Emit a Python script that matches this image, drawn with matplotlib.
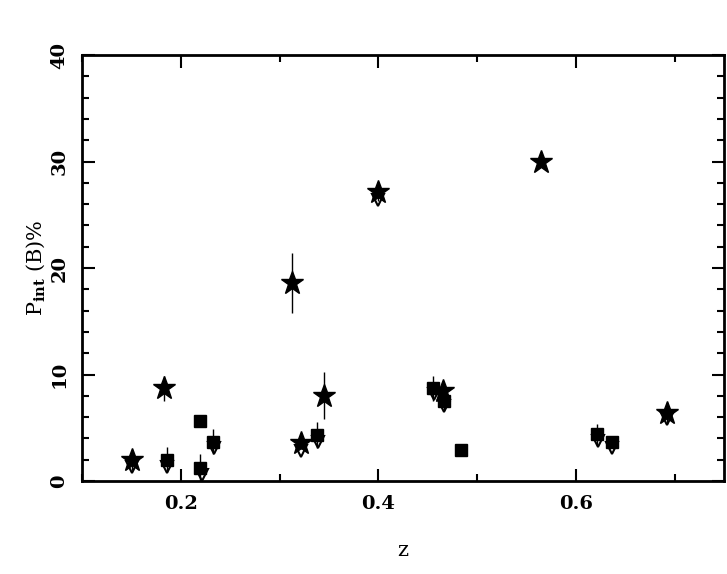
import matplotlib
matplotlib.use("Agg")
import matplotlib.pyplot as plt
from matplotlib.ticker import MultipleLocator

# stars: integrated polarization with errors
star_z = [0.150, 0.183, 0.312, 0.322, 0.345, 0.400, 0.465, 0.565, 0.692]
star_p = [2.0, 8.7, 18.6, 3.6, 8.0, 27.1, 8.5, 30.0, 6.4]
star_err = [1.0, 1.2, 2.8, 0.6, 2.2, 0.8, 0.8, 0.4, 1.0]

# filled squares
sq_z = [0.186, 0.219, 0.219, 0.232, 0.338, 0.455, 0.466, 0.484, 0.621, 0.636]
sq_p = [2.0, 5.6, 1.2, 3.7, 4.3, 8.7, 7.5, 2.9, 4.4, 3.7]
sq_err = [1.2, 0.0, 1.3, 1.2, 1.2, 1.2, 0.8, 0.0, 1.0, 0.5]

# open down triangles
tri_z = [0.150, 0.186, 0.221, 0.233, 0.322, 0.339, 0.400, 0.456, 0.466, 0.622, 0.637, 0.692]
tri_p = [1.3, 1.3, 0.6, 3.1, 2.8, 3.7, 26.4, 8.2, 7.0, 3.8, 3.1, 5.8]

plt.rcParams['font.family'] = ['DejaVu Serif']
plt.rcParams['font.weight'] = 'bold'
plt.rcParams['mathtext.fontset'] = 'dejavuserif'

fig = plt.figure(figsize=(7.27, 5.74), dpi=100)
ax = fig.add_axes([0.113, 0.162, 0.883, 0.742])

ax.plot(tri_z, tri_p, linestyle='none', marker='v', markersize=8,
        markerfacecolor='white', markeredgecolor='black', markeredgewidth=1.5, zorder=2)
ax.errorbar(sq_z, sq_p, yerr=sq_err, fmt='s', color='black', markersize=9,
            elinewidth=1, capsize=0, zorder=3)
ax.errorbar(star_z, star_p, yerr=star_err, fmt='*', color='black', markersize=17,
            elinewidth=1, capsize=0, zorder=4)

ax.set_xlim(0.1, 0.75)
ax.set_ylim(0, 40)
ax.xaxis.set_major_locator(MultipleLocator(0.2))
ax.xaxis.set_minor_locator(MultipleLocator(0.1))
ax.yaxis.set_major_locator(MultipleLocator(10))
ax.yaxis.set_minor_locator(MultipleLocator(2))
ax.tick_params(which='both', direction='in', top=True, right=True, width=1.5)
ax.tick_params(which='major', length=9, labelsize=14, pad=10)
ax.tick_params(which='minor', length=5)
for lab in ax.get_yticklabels():
    lab.set_rotation(90)
    lab.set_va('center')
for s in ax.spines.values():
    s.set_linewidth(2)

ax.set_xlabel('z', fontsize=15, labelpad=20)
ax.set_ylabel(r'P$_{\mathbf{int}}$ (B)%', fontsize=15, labelpad=2)

fig.savefig('out.png', dpi=100)
